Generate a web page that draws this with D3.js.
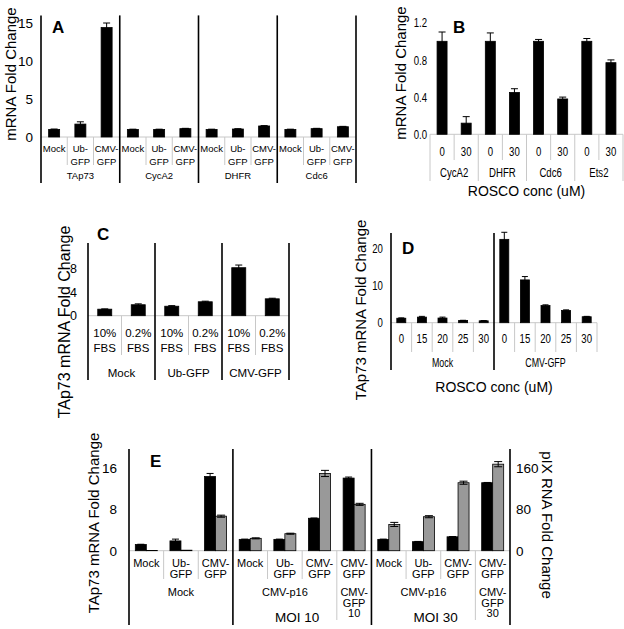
<!DOCTYPE html>
<html><head><meta charset="utf-8">
<script src="https://cdn.jsdelivr.net/npm/d3@7"></script>
<style>body{margin:0;background:#fff} svg{display:block}</style>
</head><body><svg id="c" width="624" height="629"></svg>
<script>
// ---------- DATA ----------
// Panel A
const aGroups = ["TAp73","CycA2","DHFR","Cdc6"];
const aSubs = [["Mock"],["Ub-","GFP"],["CMV-","GFP"]];
const aValues = [1.0,1.7,14.4, 1.0,1.0,1.1, 1.0,1.05,1.45, 1.0,1.1,1.35];
const aErrors = [0.05,0.3,0.6, 0.03,0.03,0.04, 0.03,0.04,0.05, 0.03,0.04,0.05];
const aTicks = [0,5,10,15];
// Panel B
const bGroups = ["CycA2","DHFR","Cdc6","Ets2"];
const bSubs = ["0","30"];
const bValues = [1.0,0.12, 1.0,0.45, 1.0,0.38, 1.0,0.77];
const bErrors = [0.1,0.07, 0.09,0.04, 0.02,0.02, 0.03,0.03];
const bTicks = [0,0.4,0.8,1.2];
// Panel C
const cGroups = ["Mock","Ub-GFP","CMV-GFP"];
const cSubs = [["10%","FBS"],["0.2%","FBS"]];
const cValues = [1.1,1.85, 1.6,2.35, 8.1,2.85];
const cErrors = [0.05,0.15, 0.1,0.1, 0.45,0.1];
const cTicks = [0,4,8];
// Panel D
const dGroups = ["Mock","CMV-GFP"];
const dSubs = ["0","15","20","25","30"];
const dValues = [1.2,1.5,1.25,0.6,0.5, 22.4,11.5,4.6,3.3,1.6];
const dErrors = [0.1,0.2,0.25,0.05,0.05, 1.9,0.9,0.2,0.15,0.1];
const dTicks = [0,10,20];
// Panel E
const eSubs = [["Mock"],["Ub-","GFP"],["CMV-","GFP"],["Mock"],["Ub-","GFP"],["CMV-","GFP"],["CMV-","GFP"],["Mock"],["Ub-","GFP"],["CMV-","GFP"],["CMV-","GFP"]];
const eGroupLabels = [["Mock"],["CMV-p16"],["CMV-","GFP","10"],["CMV-p16"],["CMV-","GFP","30"]];
const eGroupStart = [0,3,6,7,10];
const eGroupSize = [3,3,1,3,1];
const eMOILabels = ["MOI 10","MOI 30"];
const eMOIStart = [3,7];
const eMOISize = [4,4];
const eTAp73 = [1.2,1.9,14.4, 2.2,2.2,6.3,14.1, 2.2,1.75,2.7,13.2];
const eTAp73Err = [0.05,0.35,0.6, 0.05,0.05,0.05,0.2, 0.05,0.05,0.05,0.05];
const ePIX = [0.5,1,67, 24,33,150,90, 51,66,132,168];
const ePIXErr = [0,0,2, 1,1,6,2, 4,2,3,5];
const eTicksL = [0,8,16];
const eTicksR = [0,80,160];

// ---------- HELPERS ----------
const FONT = "'Liberation Sans', Arial, sans-serif";
const NARROW = 0.74; // horizontal condensation for the narrow-looking labels
const GRAY = "#c8c8c8";
const svg = d3.select("#c");

function vline(x,y1,y2,color,w){ svg.append("line").attr("x1",x).attr("x2",x).attr("y1",y1).attr("y2",y2).attr("stroke",color).attr("stroke-width",w); }
function hline(x1,x2,y,color,w){ svg.append("line").attr("x1",x1).attr("x2",x2).attr("y1",y).attr("y2",y).attr("stroke",color).attr("stroke-width",w); }
function lines(x,y,arr,lh,size,sx){
  sx = sx||1;
  arr.forEach((t,i)=>svg.append("text").attr("transform",`translate(${x},${y+i*lh}) scale(${sx},1)`).attr("text-anchor","middle")
    .attr("font-size",size).attr("font-family",FONT).attr("fill","#000").text(t));
}
function bars(x,y,values,errors,w,dx,fill,capW){
  const g = svg.append("g");
  g.selectAll("rect").data(values).join("rect")
    .attr("x",(d,i)=>x(i)+x.bandwidth()/2+dx-w/2).attr("y",d=>y(d))
    .attr("width",w).attr("height",d=>y(0)-y(d))
    .attr("fill",fill).attr("stroke","#000").attr("stroke-width",0.8);
  values.forEach((v,i)=>{
    const e = errors[i]; if(!(e>0)) return;
    const cx = x(i)+x.bandwidth()/2+dx;
    g.append("line").attr("x1",cx).attr("x2",cx).attr("y1",y(Math.max(0,v-e))).attr("y2",y(v+e)).attr("stroke","#000").attr("stroke-width",1);
    [v+e, v-e].forEach(t=>g.append("line").attr("x1",cx-capW/2).attr("x2",cx+capW/2).attr("y1",y(t)).attr("y2",y(t)).attr("stroke","#000").attr("stroke-width",1));
  });
}
function yAxis(y,ticks,x,pad,size,fmt,right,sx){
  const ax = (right?d3.axisRight(y):d3.axisLeft(y)).tickValues(ticks).tickSize(0).tickPadding(pad);
  if(fmt) ax.tickFormat(fmt);
  const a = svg.append("g").attr("transform",`translate(${x},0)`).call(ax);
  a.select(".domain").remove();
  a.selectAll("text").attr("font-size",size).attr("font-family",FONT).attr("fill","#000");
  if(sx) a.selectAll("text").attr("transform",`scale(${sx},1)`);
}
function title(text,x,y,size,rot){
  svg.append("text").attr("transform",`translate(${x},${y}) rotate(${rot})`).attr("text-anchor","middle")
    .attr("dominant-baseline","central").attr("font-size",size).attr("font-family",FONT).attr("fill","#000").text(text);
}
function letter(t,x,y){
  svg.append("text").attr("x",x).attr("y",y).attr("font-size",17).attr("font-weight","bold").attr("font-family",FONT).text(t);
}
const mid = (x,i,n)=> x(i) + n*x.bandwidth()/2;

// ---------- PANEL A ----------
{
  const n = aGroups.length*aSubs.length;
  const x = d3.scaleBand().domain(d3.range(n)).range([41,356]);
  const y = d3.scaleLinear().domain([0,16]).range([137,15.4]);
  hline(41,356,y(0),GRAY,1);
  d3.range(1,n).forEach(i=>{ if(i%3) vline(x(i),y(0),165,GRAY,1); });
  bars(x,y,aValues,aErrors,11,0,"#000",7);
  d3.range(0,n+1,3).forEach(i=>vline(i<n?x(i):356,y(16),183,"#000",1.6));
  aValues.forEach((v,i)=>lines(x(i)+x.bandwidth()/2,152,aSubs[i%3],12.5,9.5));
  aGroups.forEach((g,k)=>lines(mid(x,k*3,3),179,[g],12,9.5));
  yAxis(y,aTicks,41,8,13.5);
  title("mRNA Fold Change",10,74,15,-90);
  letter("A",52,33);
}
// ---------- PANEL B ----------
{
  const n = bGroups.length*bSubs.length;
  const x = d3.scaleBand().domain(d3.range(n)).range([430,623]);
  const y = d3.scaleLinear().domain([0,1.2]).range([134.3,22.7]);
  hline(430,623,y(0),GRAY,1);
  d3.range(0,n+1).forEach(i=>vline(i<n?x(i):623,y(0),i%2?160:181,GRAY,1));
  bars(x,y,bValues,bErrors,10,0,"#000",7);
  bValues.forEach((v,i)=>lines(x(i)+x.bandwidth()/2,155.5,[bSubs[i%2]],12,13,NARROW));
  bGroups.forEach((g,k)=>lines(mid(x,k*2,2),177,[g],12,13,NARROW));
  lines(mid(x,0,n),196,["ROSCO conc (uM)"],14,14);
  yAxis(y,bTicks,430,4,13,d3.format(".1f"),false,NARROW);
  title("mRNA Fold Change",400,73,15,-90);
  letter("B",453,33);
}
// ---------- PANEL C ----------
{
  const n = cGroups.length*cSubs.length;
  const x = d3.scaleBand().domain(d3.range(n)).range([88,289]);
  const y = d3.scaleLinear().domain([0,12]).range([315.7,244.6]);
  hline(88,289,y(0),GRAY,1);
  d3.range(1,n).forEach(i=>{ if(i%2) vline(x(i),y(0),355,GRAY,1); });
  bars(x,y,cValues,cErrors,14,0,"#000",7);
  d3.range(0,n+1,2).forEach(i=>vline(i<n?x(i):289,243,380,"#000",1.6));
  cValues.forEach((v,i)=>lines(x(i)+x.bandwidth()/2,337,cSubs[i%2],15,11.5));
  cGroups.forEach((g,k)=>lines(mid(x,k*2,2),377,[g],12,11.5));
  yAxis(y,cTicks,88,11,12.5);
  title("TAp73 mRNA Fold Change",64,322,16,-90);
  letter("C",97,240);
}
// ---------- PANEL D ----------
{
  const n = dGroups.length*dSubs.length;
  const x = d3.scaleBand().domain(d3.range(n)).range([391,597]);
  const y = d3.scaleLinear().domain([0,24]).range([322.7,233.4]);
  hline(391,597,y(0),GRAY,1);
  d3.range(1,n+1).forEach(i=>{ if(i!==5) vline(i<n?x(i):597,y(0),352,GRAY,1); });
  bars(x,y,dValues,dErrors,9,0,"#000",6);
  [0,5].forEach(i=>vline(x(i),233,370,"#000",1.6));
  dValues.forEach((v,i)=>lines(x(i)+x.bandwidth()/2,343,[dSubs[i%5]],12,13,NARROW));
  dGroups.forEach((g,k)=>lines(mid(x,k*5,5),367,[g],12,12,NARROW));
  lines(mid(x,0,n),392,["ROSCO conc (uM)"],14,14);
  yAxis(y,dTicks,391,11,13,null,false,NARROW);
  title("TAp73 mRNA Fold Change",360,310,15,-90);
  letter("D",402,254);
}
// ---------- PANEL E ----------
{
  const n = eSubs.length;
  const x = d3.scaleBand().domain(d3.range(n)).range([129,510]);
  const yL = d3.scaleLinear().domain([0,16]).range([550.7,468.3]);
  const yR = d3.scaleLinear().domain([0,160]).range([550.7,468.3]);
  hline(129,510,yL(0),GRAY,1);
  const groupEdges = eGroupStart.slice(1);
  d3.range(1,n).forEach(i=>{
    if(i===3||i===7) return;
    vline(x(i),yL(0),groupEdges.includes(i)?620:579,GRAY,1);
  });
  bars(x,yL,eTAp73,eTAp73Err,11,-5.5,"#000",7);
  bars(x,yR,ePIX,ePIXErr,11,5.5,"#999",8);
  [0,3,7,11].forEach(i=>vline(i<n?x(i):510,449,625,"#000",1.6));
  eSubs.forEach((s,i)=>lines(x(i)+x.bandwidth()/2,567,s,10.5,11));
  eGroupLabels.forEach((g,k)=>lines(mid(x,eGroupStart[k],eGroupSize[k]),596,g,10.5,11));
  eMOILabels.forEach((m,k)=>lines(mid(x,eMOIStart[k],eMOISize[k])-5,622,[m],14,13.5));
  yAxis(yL,eTicksL,129,12,13.5);
  yAxis(yR,eTicksR,510,6,13.5,null,true);
  title("TAp73 mRNA Fold Change",93,523,15,-90);
  title("pIX RNA Fold Change",547,525,15,90);
  letter("E",150,467);
}
</script></body></html>
